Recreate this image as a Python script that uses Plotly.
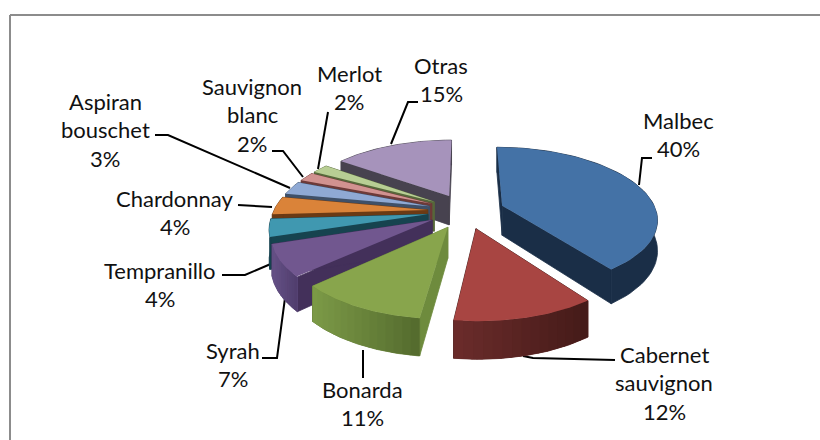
import math
import plotly.graph_objects as go

categories = ["Malbec", "Cabernet sauvignon", "Bonarda", "Syrah", "Tempranillo",
              "Chardonnay", "Aspiran bouschet", "Sauvignon blanc", "Merlot", "Otras"]
values = [40, 12, 11, 7, 4, 4, 3, 2, 2, 15]
top_colors = ["#4472A6", "#A84542", "#88A54C", "#71578F", "#4098B0",
              "#DA8339", "#8FA9D4", "#D19290", "#B8CE94", "#A693BB"]
wall_left = ["#1A2E47", "#6B2C2B", "#7C9A47", "#665187", "#16434F",
             "#6B3A14", "#3F5068", "#6E3A38", "#57683B", "#47424F"]
wall_right = ["#1A2E47", "#441A18", "#536A2D", "#4F3D6C", "#16434F",
              "#6B3A14", "#3F5068", "#6E3A38", "#57683B", "#47424F"]
face_colors = ["#1A2E47", "#441A18", "#6E8B3D", "#43305A", "#16434F",
               "#6B3A14", "#3F5068", "#6E3A38", "#57683B", "#47424F"]

# label lines, label centres and leader lines
label_lines = [["Malbec"], ["Cabernet", "sauvignon"], ["Bonarda"], ["Syrah"], ["Tempranillo"],
               ["Chardonnay"], ["Aspiran", "bouschet"], ["Sauvignon", "blanc"], ["Merlot"], ["Otras"]]
label_pos = [(678, 120), (664, 354), (362, 389), (233, 350), (160, 270),
             (175, 198), (105, 101), (252, 86), (349, 73), (441, 65)]
leaders = [
    [(639, 185), (642, 158), (652, 158)],
    [(523, 356), (533, 358), (615, 360)],
    [(363, 350), (363, 378)],
    [(285, 298), (277, 358), (262, 358)],
    [(273, 263), (245, 275), (222, 275)],
    [(272, 207), (238, 205)],
    [(290, 188), (168, 135), (155, 135)],
    [(303, 177), (283, 151), (272, 151)],
    [(318, 169), (328, 112)],
    [(391, 144), (408, 102), (418, 102)],
]

CX, CY, R, S, K, H, PULL = 466, 211, 154, 70, 0.17, 30, 0.25


def project(X, Y, drop=0.0):
    d = 1 + K * Y
    return CX + R * X / d, CY - S * Y / d + drop / d


def arc(a0, a1, ox, oy, n=60, drop=0.0):
    pts = []
    for i in range(n + 1):
        a = math.radians(a0 + (a1 - a0) * i / n)
        pts.append(project(ox + math.sin(a), oy + math.cos(a), drop))
    return pts


def mix(c0, c1, t):
    a = [int(c0[i:i + 2], 16) for i in (1, 3, 5)]
    b = [int(c1[i:i + 2], 16) for i in (1, 3, 5)]
    return "#%02X%02X%02X" % tuple(round(p + (q - p) * t) for p, q in zip(a, b))


def poly(fig, pts, color, lw=0.0):
    fig.add_trace(go.Scatter(
        x=[p[0] for p in pts] + [pts[0][0]], y=[p[1] for p in pts] + [pts[0][1]],
        mode="lines", fill="toself", fillcolor=color,
        line=dict(color=color, width=lw), hoverinfo="skip", showlegend=False))


total = sum(values)
slices = []
start = 0.0
for i, v in enumerate(values):
    sweep = 360.0 * v / total
    slices.append((i, start, start + sweep))
    start += sweep
slices.sort(key=lambda s: -math.cos(math.radians((s[1] + s[2]) / 2)))

fig = go.Figure()
for i, a0, a1 in slices:
    mid = math.radians((a0 + a1) / 2)
    ox, oy = PULL * math.sin(mid), PULL * math.cos(mid)
    apex, apex_low = project(ox, oy), project(ox, oy, H)
    top = arc(a0, a1, ox, oy)
    low = arc(a0, a1, ox, oy, drop=H)
    poly(fig, [apex, top[0], low[0], apex_low], face_colors[i], 0.8)
    poly(fig, [apex, top[-1], low[-1], apex_low], face_colors[i], 0.8)
    poly(fig, top + low[::-1], mix(wall_left[i], wall_right[i], 0.5), 0.8)
    if wall_left[i] != wall_right[i]:
        xs = [p[0] for p in top]
        xmin, xmax = min(xs), max(xs)
        step = 4
        for j in range(0, len(top) - 1, step):
            e = min(j + step + 1, len(top) - 1)
            t = ((top[j][0] + top[e][0]) / 2 - xmin) / max(xmax - xmin, 1)
            poly(fig, [top[j], top[e], low[e], low[j]], mix(wall_left[i], wall_right[i], t))
    poly(fig, [apex] + top, top_colors[i])

annotations = []
for i, lines in enumerate(label_lines):
    x, y = label_pos[i]
    for j, text in enumerate(lines + [f"{values[i]}%"]):
        annotations.append(dict(x=x, y=y + j * 28.7, xref="x", yref="y", text=text, showarrow=False,
                                font=dict(family="Lato", size=22, color="#111111"),
                                xanchor="center", yanchor="middle"))

shapes = [dict(type="path", layer="below", line=dict(color="#000000", width=2),
               path="M " + " L ".join(f"{x},{y}" for x, y in pts)) for pts in leaders]
for x0, y0, x1, y1 in [(10, 15, 820, 15), (10, 15, 10, 440)]:
    shapes.append(dict(type="line", layer="below", x0=x0, y0=y0, x1=x1, y1=y1,
                       line=dict(color="#8C8C8C", width=2)))

fig.update_layout(
    width=820, height=440, margin=dict(l=0, r=0, t=0, b=0),
    paper_bgcolor="#FFFFFF", plot_bgcolor="#FFFFFF", showlegend=False,
    xaxis=dict(range=[0, 820], visible=False, fixedrange=True),
    yaxis=dict(range=[440, 0], visible=False, fixedrange=True),
    annotations=annotations, shapes=shapes,
)
fig.write_html("out.html", config=dict(displayModeBar=False),
               post_script="document.body.style.margin='0';document.body.style.overflow='hidden';")
